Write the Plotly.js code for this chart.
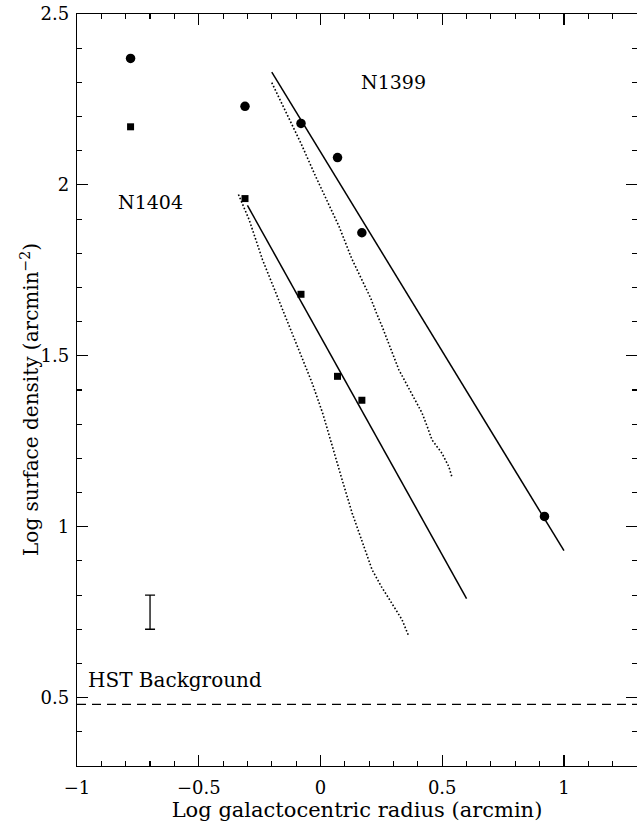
<!DOCTYPE html>
<html>
<head>
<meta charset="utf-8">
<script src="https://cdn.plot.ly/plotly-3.0.1.min.js"></script>
<style>html,body{margin:0;padding:0;background:#fff;}</style>
</head>
<body>
<div id="chart" style="width:637px;height:822px;"></div>
<script>
// Data
const n1399X = [-0.78, -0.31, -0.08, 0.07, 0.17, 0.92];
const n1399Y = [2.37, 2.23, 2.18, 2.08, 1.86, 1.03];
const n1404X = [-0.78, -0.31, -0.08, 0.07, 0.17];
const n1404Y = [2.17, 1.96, 1.68, 1.44, 1.37];

const n1399FitX = [-0.20, 1.00];
const n1399FitY = [2.33, 0.93];
const n1404FitX = [-0.30, 0.60];
const n1404FitY = [1.94, 0.79];

const n1399DotX = [-0.200, -0.081, -0.020, 0.076, 0.128, 0.158, 0.206, 0.230, 0.253, 0.322, 0.383, 0.404, 0.417, 0.440, 0.458, 0.499, 0.527, 0.540];
const n1399DotY = [2.299, 2.123, 2.025, 1.879, 1.785, 1.742, 1.669, 1.625, 1.586, 1.459, 1.378, 1.352, 1.333, 1.290, 1.254, 1.215, 1.176, 1.145];
const n1404DotX = [-0.337, -0.293, -0.238, -0.184, -0.102, -0.034, 0.010, 0.048, 0.089, 0.130, 0.171, 0.212, 0.250, 0.281, 0.335, 0.363];
const n1404DotY = [1.972, 1.898, 1.781, 1.684, 1.537, 1.420, 1.330, 1.235, 1.137, 1.040, 0.955, 0.874, 0.825, 0.790, 0.728, 0.679];

const bgX = [-1, 1.3];
const bgY = [0.48, 0.48];

const errX = [-0.70];
const errY = [0.75];
const errHalf = [0.05];

const xTickVals = [-1, -0.5, 0, 0.5, 1];
const xTickText = ['\u22121', '\u22120.5', '0', '0.5', '1'];
const yTickVals = [0.5, 1, 1.5, 2, 2.5];
const yTickText = ['0.5', '1', '1.5', '2', '2.5'];

const xTitle = 'Log galactocentric radius (arcmin)';
const yTitle = 'Log surface density (arcmin<sup>\u22122</sup>)';

const labels = [
  {text: 'N1399', x: 0.298, y: 2.30, size: 19},
  {text: 'N1404', x: -0.70, y: 1.95, size: 19},
  {text: 'HST Background', x: -0.598, y: 0.553, size: 20}
];

const FONT = 'DejaVu Serif, Liberation Serif, serif';

const traces = [
  {x: bgX, y: bgY, mode: 'lines', line: {color: '#000', width: 1.2, dash: '9px,6px'}, hoverinfo: 'skip'},
  {x: n1399DotX, y: n1399DotY, mode: 'lines', line: {color: '#000', width: 1.6, dash: '1.6px,2px'}},
  {x: n1404DotX, y: n1404DotY, mode: 'lines', line: {color: '#000', width: 1.6, dash: '1.6px,2px'}},
  {x: n1399FitX, y: n1399FitY, mode: 'lines', line: {color: '#000', width: 1.5}},
  {x: n1404FitX, y: n1404FitY, mode: 'lines', line: {color: '#000', width: 1.5}},
  {x: errX, y: errY, mode: 'markers', marker: {size: 0.1, color: 'rgba(0,0,0,0)'},
   error_y: {type: 'data', array: errHalf, visible: true, color: '#000', thickness: 1.3, width: 5}},
  {x: n1399X, y: n1399Y, mode: 'markers', marker: {symbol: 'circle', size: 9.5, color: '#000'}},
  {x: n1404X, y: n1404Y, mode: 'markers', marker: {symbol: 'square', size: 7, color: '#000'}}
];

const axisCommon = {
  showgrid: false, zeroline: false, showline: true, linecolor: '#000', linewidth: 1.2,
  mirror: 'ticks', ticks: 'inside', ticklen: 11, tickwidth: 1.1, tickcolor: '#000',
  tickmode: 'array',
  tickfont: {family: FONT, size: 18, color: '#000'},
  minor: {ticks: 'inside', ticklen: 5, tickwidth: 1.1, tickcolor: '#000', tickmode: 'linear', tick0: 0, dtick: 0.1, showgrid: false}
};

const annotations = labels.map(l => ({
  text: l.text, x: l.x, y: l.y, xref: 'x', yref: 'y', showarrow: false,
  xanchor: 'center', yanchor: 'middle', font: {family: FONT, size: l.size, color: '#000'}
}));
// y-axis title, placed as a rotated annotation so it can sit where the reference has it
annotations.push({
  text: yTitle, xref: 'paper', yref: 'y', x: 0, y: 1.371, xshift: -47,
  textangle: -90, showarrow: false, xanchor: 'center', yanchor: 'middle',
  font: {family: FONT, size: 20, color: '#000'}
});

const layout = {
  width: 637, height: 822,
  margin: {l: 77, r: 0, t: 14, b: 56},
  paper_bgcolor: '#fff', plot_bgcolor: '#fff',
  showlegend: false,
  font: {family: FONT, color: '#000'},
  xaxis: Object.assign({}, axisCommon, {
    range: [-1, 1.3], tickvals: xTickVals, ticktext: xTickText, ticklabelstandoff: 5,
    title: {text: xTitle, font: {family: FONT, size: 21, color: '#000'}, standoff: 8}
  }),
  yaxis: Object.assign({}, axisCommon, {
    range: [0.3, 2.5], tickvals: yTickVals, ticktext: yTickText, ticklabelstandoff: 3
  }),
  annotations: annotations
};

Plotly.newPlot('chart', traces, layout, {displayModeBar: false, staticPlot: true});
</script>
</body>
</html>
